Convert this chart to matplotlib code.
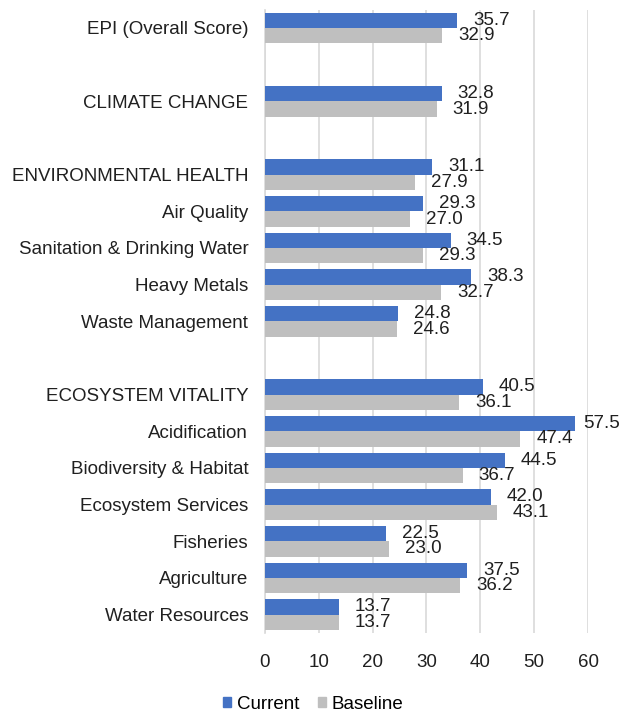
import matplotlib.pyplot as plt
import numpy as np

plt.rcParams['font.family'] = ['Liberation Sans', 'DejaVu Sans']

# Categories (empty strings are spacer rows)
categories = ['EPI (Overall Score)', '', 'CLIMATE CHANGE', '', 'ENVIRONMENTAL HEALTH',
              'Air Quality', 'Sanitation & Drinking Water', 'Heavy Metals', 'Waste Management',
              '', 'ECOSYSTEM VITALITY', 'Acidification', 'Biodiversity & Habitat',
              'Ecosystem Services', 'Fisheries', 'Agriculture', 'Water Resources']

current = [35.7, None, 32.8, None, 31.1, 29.3, 34.5, 38.3, 24.8,
           None, 40.5, 57.5, 44.5, 42.0, 22.5, 37.5, 13.7]
baseline = [32.9, None, 31.9, None, 27.9, 27.0, 29.3, 32.7, 24.6,
            None, 36.1, 47.4, 36.7, 43.1, 23.0, 36.2, 13.7]

blue = '#4472C4'
grey = '#BFBFBF'
fs = 13.5

fig = plt.figure(figsize=(6.19, 7.16), dpi=100)
ax = fig.add_axes([0.428, 0.116, 0.522, 0.8705])

y = np.arange(len(categories))
h = 0.42


def label(val, ypos):
    # labels near the right edge get pulled in so they stay inside the figure
    off = 6 if val > 55 else 11.5
    ax.annotate(f'{val:.1f}', (val, ypos), xytext=(off, 0), textcoords='offset points',
                va='center', ha='left', fontsize=fs, color='#202020', annotation_clip=False)


for i, (c, b) in enumerate(zip(current, baseline)):
    if c is None:
        continue
    ax.barh(i - h / 2, c, height=h, color=blue, zorder=3)
    ax.barh(i + h / 2, b, height=h, color=grey, zorder=3)
    label(c, i - h / 2)
    label(b, i + h / 2)

ax.set_yticks(y)
ax.set_yticklabels(categories, fontsize=fs, color='#202020')
ax.set_ylim(len(categories) - 0.5, -0.5)
ax.set_xlim(0, 60)
ax.set_xticks(np.arange(0, 61, 10))
ax.tick_params(axis='x', labelsize=fs, length=0, pad=15, labelcolor='#202020')
ax.tick_params(axis='y', length=0, pad=12)
ax.grid(axis='x', color='#D9D9D9', linewidth=1.2, zorder=0)
for s in ['top', 'right', 'bottom']:
    ax.spines[s].set_visible(False)
ax.spines['left'].set_color('#D9D9D9')
ax.spines['left'].set_linewidth(1.2)

handles = [plt.Rectangle((0, 0), 1, 1, color=blue), plt.Rectangle((0, 0), 1, 1, color=grey)]
fig.legend(handles, ['Current', 'Baseline'], loc='center', bbox_to_anchor=(0.506, 0.016),
           ncol=2, frameon=False, fontsize=fs, handlelength=0.43, handleheight=0.43,
           handletextpad=0.3, columnspacing=1.0)

fig.savefig('out.png', dpi=100)
